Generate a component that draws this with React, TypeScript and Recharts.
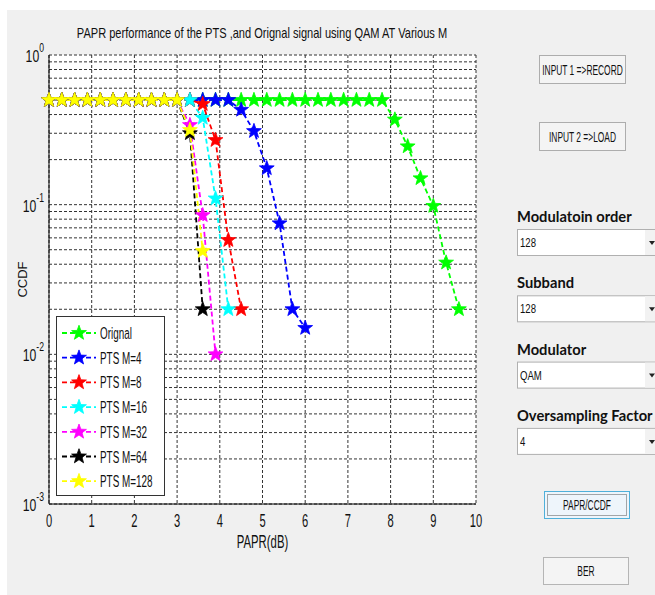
import React from "react";
import { CartesianGrid, Line, LineChart, XAxis, YAxis } from "recharts";

const FONT = "'Liberation Sans', Arial, sans-serif";

// PAPR grid shared by every curve (dB)
const paprGrid = [
  0, 0.3, 0.6, 0.9, 1.2, 1.5, 1.8, 2.1, 2.4, 2.7, 3.0, 3.3, 3.6, 3.9, 4.2, 4.5, 4.8,
  5.1, 5.4, 5.7, 6.0, 6.3, 6.6, 6.9, 7.2, 7.5, 7.8, 8.1, 8.4, 8.7, 9.0, 9.3, 9.6,
];

// CCDF values, index-aligned with paprGrid
const ccdfOriginal = [
  0.5, 0.5, 0.5, 0.5, 0.5, 0.5, 0.5, 0.5, 0.5, 0.5, 0.5, 0.5, 0.5, 0.5, 0.5, 0.5, 0.5,
  0.5, 0.5, 0.5, 0.5, 0.5, 0.5, 0.5, 0.5, 0.5, 0.5, 0.37, 0.245, 0.15, 0.098, 0.041, 0.02,
];
const ccdfM4 = [
  0.5, 0.5, 0.5, 0.5, 0.5, 0.5, 0.5, 0.5, 0.5, 0.5, 0.5, 0.5, 0.5, 0.5, 0.5,
  0.43, 0.31, 0.175, 0.075, 0.02, 0.015,
];
const ccdfM8 = [0.5, 0.5, 0.5, 0.5, 0.5, 0.5, 0.5, 0.5, 0.5, 0.5, 0.5, 0.5, 0.47, 0.27, 0.058, 0.02];
const ccdfM16 = [0.5, 0.5, 0.5, 0.5, 0.5, 0.5, 0.5, 0.5, 0.5, 0.5, 0.5, 0.5, 0.38, 0.11, 0.02];
const ccdfM32 = [0.5, 0.5, 0.5, 0.5, 0.5, 0.5, 0.5, 0.5, 0.5, 0.5, 0.5, 0.34, 0.085, 0.01];
const ccdfM64 = [0.5, 0.5, 0.5, 0.5, 0.5, 0.5, 0.5, 0.5, 0.5, 0.5, 0.5, 0.3, 0.02];
const ccdfM128 = [0.5, 0.5, 0.5, 0.5, 0.5, 0.5, 0.5, 0.5, 0.5, 0.5, 0.5, 0.315, 0.049];

const seriesNames = ["Orignal", "PTS M=4", "PTS M=8", "PTS M=16", "PTS M=32", "PTS M=64", "PTS M=128"];
const seriesColors = ["#00ff00", "#0000ff", "#ff0000", "#00ffff", "#ff00ff", "#000000", "#ffff00"];
const seriesValues = [ccdfOriginal, ccdfM4, ccdfM8, ccdfM16, ccdfM32, ccdfM64, ccdfM128];

const xTicks = [0, 1, 2, 3, 4, 5, 6, 7, 8, 9, 10];
const yTicks = [
  0.001, 0.002, 0.003, 0.004, 0.005, 0.006, 0.007, 0.008, 0.009,
  0.01, 0.02, 0.03, 0.04, 0.05, 0.06, 0.07, 0.08, 0.09,
  0.1, 0.2, 0.3, 0.4, 0.5, 0.6, 0.7, 0.8, 0.9, 1,
];

const dropdowns = [
  { label: "Modulatoin order", value: "128" },
  { label: "Subband", value: "128" },
  { label: "Modulator", value: "QAM" },
  { label: "Oversampling Factor", value: "4" },
];

function starPoints(cx: number, cy: number, R = 7.8, r = 3.2) {
  const pts: string[] = [];
  for (let i = 0; i < 10; i++) {
    const rad = i % 2 === 0 ? R : r;
    const a = -Math.PI / 2 + (i * Math.PI) / 5;
    pts.push(`${cx + rad * Math.cos(a)},${cy + rad * Math.sin(a)}`);
  }
  return pts.join(" ");
}

const starDot = (color: string) => (props: any) => {
  const { cx, cy, index } = props;
  if (cx == null || cy == null) return <g key={index} />;
  return <polygon key={index} points={starPoints(cx, cy)} fill={color} stroke={color} strokeWidth={0.8} />;
};

// the source picture is squeezed horizontally, so text gets an x-scale
function SText({ x, y, sx = 1, anchor = "start", size = 14, weight = 400, family = FONT, children }: any) {
  return (
    <text
      transform={`translate(${x},${y}) scale(${sx},1)`}
      textAnchor={anchor}
      fontSize={size}
      fontWeight={weight}
      fontFamily={family}
      fill="#111"
    >
      {children}
    </text>
  );
}

const XTick = ({ x, y, payload }: any) => (
  <SText x={x} y={y + 23} sx={0.62} anchor="middle" size={18}>
    {payload.value}
  </SText>
);

const YTick = ({ x, y, payload }: any) => {
  const lg = Math.log10(payload.value);
  const exp = Math.round(lg);
  if (Math.abs(lg - exp) > 1e-6) return <g />;
  return (
    <text transform={`translate(${x - 5},${y + 7}) scale(0.72,1)`} textAnchor="end" fontFamily={FONT} fill="#111">
      <tspan fontSize={17}>10</tspan>
      <tspan fontSize={12} dy={-10}>{exp}</tspan>
    </text>
  );
};

const XLabel = ({ viewBox }: any) => (
  <SText x={viewBox.x + viewBox.width / 2} y={viewBox.y + viewBox.height + 14} sx={0.63} anchor="middle" size={18}>
    PAPR(dB)
  </SText>
);

export default function App() {
  const series = seriesValues.map((vals, i) => ({
    name: seriesNames[i],
    color: seriesColors[i],
    data: vals.map((v, j) => ({ x: paprGrid[j], y: v })),
  }));

  return (
    <div style={{ position: "absolute", left: 0, top: 0, width: 655, height: 595, background: "#fff", overflow: "hidden" }}>
      <div style={{ position: "absolute", left: 7, top: 10, right: 0, bottom: 0, background: "#f0f0f0" }} />
      <div style={{ position: "absolute", left: 0, top: 0 }}>
        <LineChart width={500} height={560} margin={{ top: 55, right: 24, bottom: 26, left: 9 }}>
          <CartesianGrid fill="#fff" stroke="#333" strokeDasharray="3 2" />
          <XAxis
            dataKey="x"
            type="number"
            domain={[0, 10]}
            ticks={xTicks}
            interval={0}
            height={30}
            tickSize={0}
            tickMargin={0}
            tickLine={false}
            axisLine={{ stroke: "#000" }}
            tick={<XTick />}
            label={{ content: <XLabel /> }}
          />
          <XAxis xAxisId="top" orientation="top" type="number" domain={[0, 10]} height={0} tick={false} tickLine={false} axisLine={{ stroke: "#000" }} />
          <YAxis
            type="number"
            scale="log"
            domain={[0.001, 1]}
            allowDataOverflow
            ticks={yTicks}
            interval={0}
            width={40}
            tickSize={0}
            tickMargin={0}
            tickLine={false}
            axisLine={{ stroke: "#000" }}
            tick={<YTick />}
            label={{
              value: "CCDF",
              angle: -90,
              position: "insideLeft",
              offset: 13,
              fontSize: 13,
              fontFamily: FONT,
              fill: "#111",
              style: { textAnchor: "middle" },
            }}
          />
          <YAxis yAxisId="right" orientation="right" type="number" domain={[0, 1]} width={0} tick={false} tickLine={false} axisLine={{ stroke: "#000" }} />
          {series.map((s) => (
            <Line
              key={s.name}
              data={s.data}
              dataKey="y"
              name={s.name}
              type="linear"
              stroke={s.color}
              strokeWidth={1.8}
              strokeDasharray="5 3"
              dot={starDot(s.color)}
              isAnimationActive={false}
            />
          ))}
        </LineChart>
      </div>

      <svg width={655} height={595} style={{ position: "absolute", left: 0, top: 0, pointerEvents: "none" }}>
        <SText x={262} y={38} sx={0.79} anchor="middle" size={14}>
          PAPR performance of the PTS ,and Orignal signal using QAM AT Various M
        </SText>

        {/* legend */}
        <rect x={56.5} y={316.5} width={108} height={179} fill="#fff" stroke="#333" />
        {series.map((s, i) => {
          const cy = 333 + i * 24.7;
          return (
            <g key={s.name}>
              <line x1={62} x2={96} y1={cy} y2={cy} stroke={s.color} strokeWidth={1.8} strokeDasharray="5 3" />
              <polygon points={starPoints(79, cy)} fill={s.color} stroke={s.color} strokeWidth={0.8} />
              <SText x={100} y={cy + 6} sx={0.6} size={16.5}>
                {s.name}
              </SText>
            </g>
          );
        })}

        {/* GUI controls */}
        <rect x={539.5} y={55.5} width={86} height={28} fill="#f4f4f4" stroke="#adadad" />
        <SText x={582.5} y={74.5} sx={0.6} anchor="middle" size={14}>INPUT 1 =&gt;RECORD</SText>
        <rect x={539.5} y={122.5} width={86} height={28} fill="#f4f4f4" stroke="#adadad" />
        <SText x={582.5} y={141.5} sx={0.6} anchor="middle" size={14}>INPUT 2  =&gt;LOAD</SText>

        {dropdowns.map((d, i) => {
          const top = 229 + i * 66.3;
          return (
            <g key={d.label}>
              <SText x={517} y={top - 7} sx={0.92} size={16} weight={700} family="Lato, sans-serif">
                {d.label}
              </SText>
              <rect x={517.5} y={top + 0.5} width={150} height={26} fill="#fff" stroke="#b0b0b0" />
              <rect x={645} y={top + 1} width={10} height={25} fill="#f2f2f2" />
              <SText x={520} y={top + 18} sx={0.8} size={12}>{d.value}</SText>
              <polygon points={`${649},${top + 12} ${655},${top + 12} ${652},${top + 16}`} fill="#222" />
            </g>
          );
        })}

        <rect x={544.5} y={491.5} width={85} height={27} fill="#eef5fb" stroke="#4fb0da" />
        <rect x={547.5} y={494.5} width={79} height={21} fill="none" stroke="#555" strokeDasharray="1 1" />
        <SText x={587} y={510} sx={0.6} anchor="middle" size={14}>PAPR/CCDF</SText>
        <rect x={543.5} y={557.5} width={85} height={27} fill="#f4f4f4" stroke="#b5b5b5" />
        <SText x={586} y={576} sx={0.6} anchor="middle" size={14}>BER</SText>
      </svg>
    </div>
  );
}
